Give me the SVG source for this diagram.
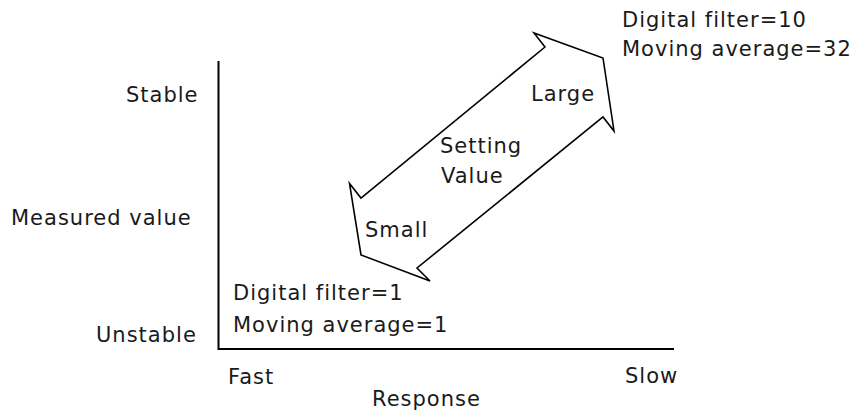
<svg xmlns="http://www.w3.org/2000/svg" width="854" height="411" viewBox="0 0 854 411">
  <style>
    text { font-family: "DejaVu Sans", Verdana, sans-serif; font-size: 21px; letter-spacing: 1px; fill: #1a1a1a; }
    .axis { stroke: #000; stroke-width: 2; fill: none; }
    .arrow { stroke: #000; stroke-width: 1.6; fill: #fff; stroke-linejoin: miter; }
  </style>
  <rect width="854" height="411" fill="#fff"/>

  <!-- axes -->
  <g id="connectors">
    <polyline class="axis" points="218.5,61 218.5,349 674,349"/>
  </g>

  <!-- double-headed setting arrow -->
  <g id="setting-arrow">
    <polygon class="arrow" points="545,47 534,33 603,58 614,131 603,117 417,268 430,281 361,255 349.5,183.5 361,198"/>
    <text x="531" y="101">Large</text>
    <text x="440" y="153">Setting</text>
    <text x="441" y="183">Value</text>
    <text x="365" y="237">Small</text>
  </g>

  <g id="y-labels">
    <text x="126" y="102">Stable</text>
    <text x="11" y="225">Measured value</text>
    <text x="96" y="342">Unstable</text>
  </g>

  <g id="x-labels">
    <text x="228" y="384">Fast</text>
    <text x="625" y="383">Slow</text>
    <text x="372" y="406">Response</text>
  </g>

  <g id="low-settings">
    <text x="233" y="300">Digital filter=1</text>
    <text x="233" y="332">Moving average=1</text>
  </g>

  <g id="high-settings">
    <text x="622" y="27">Digital filter=10</text>
    <text x="622" y="56">Moving average=32</text>
  </g>
</svg>
